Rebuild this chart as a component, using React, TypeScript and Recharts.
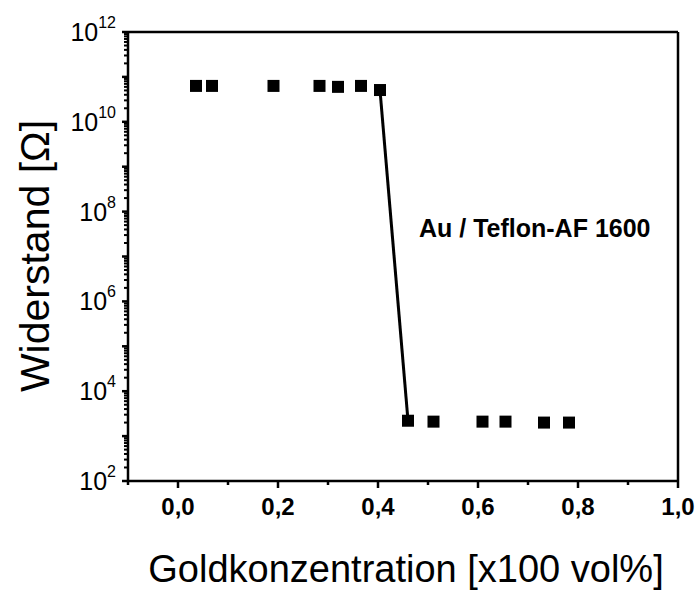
import {
  ComposedChart,
  Scatter,
  XAxis,
  YAxis,
  ReferenceLine,
  Customized,
} from "recharts";

// Messpunkte (Goldkonzentration x100 vol%, Widerstand in Ohm)
const goldConc = [0.036, 0.068, 0.191, 0.283, 0.32, 0.366, 0.404, 0.46, 0.511, 0.609, 0.655, 0.732, 0.782];
const resistance = [6.3e10, 6.3e10, 6.3e10, 6.3e10, 6.0e10, 6.3e10, 5.1e10, 2.2e3, 2.1e3, 2.1e3, 2.1e3, 2.0e3, 2.0e3];

// Verbindungslinie am Perkolationsübergang
const fitConc = [0.404, 0.46];
const fitResistance = [5.1e10, 2.2e3];

const xTicks = [-0.1, 0, 0.1, 0.2, 0.3, 0.4, 0.5, 0.6, 0.7, 0.8, 0.9, 1.0];
const xLabelTicks = [0, 0.2, 0.4, 0.6, 0.8, 1.0];
const yExponents = [2, 3, 4, 5, 6, 7, 8, 9, 10, 11, 12];
const yLabelExponents = [2, 4, 6, 8, 10, 12];

const FONT = "'Liberation Sans', Arial, Helvetica, sans-serif";

const points = goldConc.map((x, i) => ({ x, y: resistance[i] }));
const fitLine = fitConc.map((x, i) => ({ x, y: fitResistance[i] }));

// major decades plus 2..9 minor ticks
const yTicks: number[] = [];
yExponents.forEach((e) => {
  yTicks.push(Math.pow(10, e));
  if (e < 12) {
    for (let k = 2; k <= 9; k++) yTicks.push(k * Math.pow(10, e));
  }
});

function SquareMarker(props: any) {
  const { cx, cy } = props;
  if (cx == null || cy == null) return <g />;
  return <rect x={cx - 6} y={cy - 6} width={12} height={12} fill="#000" />;
}

function XTick(props: any) {
  const { x, y, payload } = props;
  const v = payload.value;
  const isMajor = xLabelTicks.some((t) => Math.abs(t - v) < 1e-6);
  return (
    <g>
      <line x1={x} y1={y} x2={x} y2={y + (isMajor ? 7 : 4)} stroke="#000" strokeWidth={2.5} />
      {isMajor && (
        <text
          x={x}
          y={y + 34}
          textAnchor="middle"
          fontFamily={FONT}
          fontWeight="bold"
          fontSize={24}
          fill="#000"
        >
          {v.toFixed(1).replace(".", ",")}
        </text>
      )}
    </g>
  );
}

function YTick(props: any) {
  const { x, y, payload } = props;
  const v = payload.value;
  const exp = Math.log10(v);
  const isDecade = Math.abs(exp - Math.round(exp)) < 1e-6;
  const showLabel = isDecade && yLabelExponents.includes(Math.round(exp));
  return (
    <g>
      <line x1={x} y1={y} x2={x - (isDecade ? 6 : 4)} y2={y} stroke="#000" strokeWidth={isDecade ? 2.5 : 2} />
      {showLabel && (
        <text x={x - 12} y={y + 9} textAnchor="end" fontFamily={FONT} fontSize={25} fill="#000">
          10
          <tspan dy={-13} fontSize={16}>
            {Math.round(exp)}
          </tspan>
        </text>
      )}
    </g>
  );
}

function Annotation() {
  return (
    <text x={419} y={237} fontFamily={FONT} fontWeight="bold" fontSize={25} fill="#000">
      Au / Teflon-AF 1600
    </text>
  );
}

export default function App() {
  return (
    <div style={{ position: "absolute", left: 0, top: 0, background: "#fff" }}>
      <ComposedChart width={698} height={590} margin={{ top: 32, right: 20, bottom: 0, left: 0 }}>
        <XAxis
          type="number"
          dataKey="x"
          domain={[-0.1, 1.0]}
          ticks={xTicks}
          interval={0}
          allowDataOverflow
          height={109}
          tickSize={0}
          tickMargin={0}
          tickLine={false}
          axisLine={{ stroke: "#000", strokeWidth: 2.5 }}
          tick={<XTick />}
          label={{
            content: () => (
              <text x={406} y={582} textAnchor="middle" fontFamily={FONT} fontSize={38} fill="#000">
                Goldkonzentration [x100 vol%]
              </text>
            ),
          }}
        />
        <YAxis
          type="number"
          dataKey="y"
          scale="log"
          domain={[1e2, 1e12]}
          ticks={yTicks}
          interval={0}
          allowDataOverflow
          width={128}
          tickSize={0}
          tickMargin={0}
          tickLine={false}
          axisLine={{ stroke: "#000", strokeWidth: 2.5 }}
          tick={<YTick />}
          label={{
            content: () => (
              <text
                x={49}
                y={256}
                transform="rotate(-90 49 256)"
                textAnchor="middle"
                fontFamily={FONT}
                fontSize={41}
                fill="#000"
              >
                Widerstand [Ω]
              </text>
            ),
          }}
        />
        <ReferenceLine y={1e12} stroke="#000" strokeWidth={2.5} />
        <ReferenceLine x={1.0} stroke="#000" strokeWidth={2.5} />
        <Scatter
          data={fitLine}
          line={{ stroke: "#000", strokeWidth: 3 }}
          shape={() => <g />}
          isAnimationActive={false}
          legendType="none"
        />
        <Scatter data={points} shape={<SquareMarker />} isAnimationActive={false} legendType="none" />
        <Customized component={Annotation} />
      </ComposedChart>
    </div>
  );
}
